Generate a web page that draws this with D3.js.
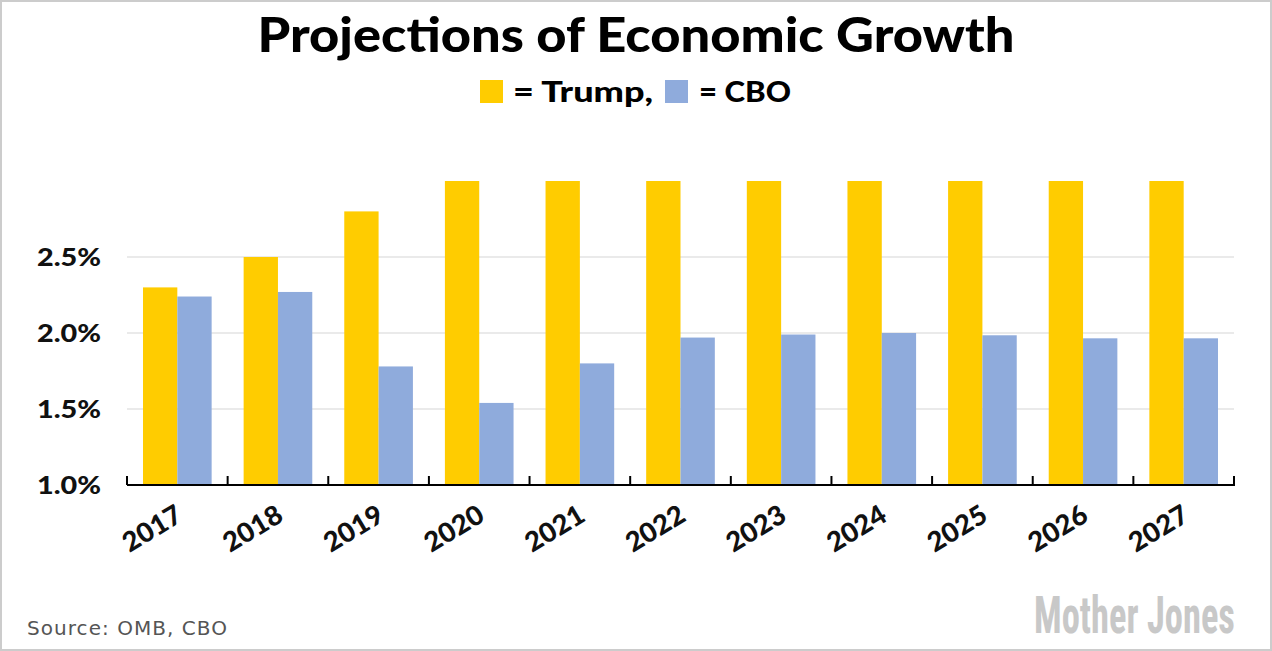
<!DOCTYPE html>
<html>
<head>
<meta charset="utf-8">
<script src="https://cdn.jsdelivr.net/npm/d3@7"></script>
<style>
  html, body { margin: 0; padding: 0; background: #fff; }
  svg { display: block; }
</style>
</head>
<body>
<svg id="chart" width="1272" height="651"></svg>
<script>
const years = ["2017","2018","2019","2020","2021","2022","2023","2024","2025","2026","2027"];
const trump = [2.3, 2.5, 2.8, 3.0, 3.0, 3.0, 3.0, 3.0, 3.0, 3.0, 3.0];
const cbo   = [2.24, 2.27, 1.78, 1.54, 1.80, 1.97, 1.99, 2.00, 1.985, 1.965, 1.965];
const series = ["Trump", "CBO"];
const colors = ["#ffcc00", "#8fabdc"];
const yTicks = [1.0, 1.5, 2.0, 2.5];

const svg = d3.select("#chart");
const W = 1272, H = 651;
const boldFont = "Lato, 'Open Sans', sans-serif";

// border
svg.append("rect").attr("x", 1).attr("y", 1).attr("width", W - 2).attr("height", H - 2)
  .attr("fill", "#fff").attr("stroke", "#cccccc").attr("stroke-width", 2);

const plotLeft = 127, plotRight = 1234, plotBottom = 485, plotTop = 181;

const x0 = d3.scaleBand().domain(years).range([plotLeft, plotRight]).padding(0);
const x1 = d3.scaleBand().domain(series).range([0, x0.bandwidth()]).paddingInner(0).paddingOuter(0.466);
const y = d3.scaleLinear().domain([1.0, 3.0]).range([plotBottom, plotTop]);
const color = d3.scaleOrdinal().domain(series).range(colors);

// gridlines
svg.append("g").selectAll("line").data(yTicks.slice(1)).join("line")
  .attr("x1", plotLeft).attr("x2", plotRight)
  .attr("y1", d => y(d)).attr("y2", d => y(d))
  .attr("stroke", "#e3e3e3").attr("stroke-width", 1.5);

// y labels
svg.append("g").selectAll("text").data(yTicks).join("text")
  .attr("x", 101).attr("y", d => y(d))
  .attr("dy", "0.36em")
  .attr("text-anchor", "end")
  .attr("font-family", boldFont)
  .attr("font-weight", 900)
  .attr("font-size", 24)
  .attr("textLength", 64).attr("lengthAdjust", "spacingAndGlyphs")
  .attr("fill", "#111")
  .text(d => d.toFixed(1) + "%");

// bars
const rows = years.map((yr, i) => ({ year: yr, values: [
  { key: "Trump", value: trump[i] }, { key: "CBO", value: cbo[i] }
]}));
const g = svg.append("g").selectAll("g").data(rows).join("g")
  .attr("transform", d => `translate(${x0(d.year)},0)`);
g.selectAll("rect").data(d => d.values).join("rect")
  .attr("x", d => x1(d.key))
  .attr("width", x1.bandwidth())
  .attr("y", d => y(d.value))
  .attr("height", d => y(1.0) - y(d.value))
  .attr("fill", d => color(d.key));

// baseline and ticks
svg.append("line").attr("x1", plotLeft).attr("x2", plotRight + 1)
  .attr("y1", plotBottom).attr("y2", plotBottom)
  .attr("stroke", "#000").attr("stroke-width", 2);
const tickPos = years.map(yr => x0(yr)).concat([x0(years[years.length - 1]) + x0.bandwidth()]);
svg.append("g").selectAll("line").data(tickPos).join("line")
  .attr("x1", d => d).attr("x2", d => d)
  .attr("y1", plotBottom).attr("y2", plotBottom - 9)
  .attr("stroke", "#000").attr("stroke-width", 2);

// x labels
svg.append("g").selectAll("text").data(years).join("text")
  .attr("transform", d => `translate(${x0(d) + x0.bandwidth() / 2 + 7},520) rotate(-31)`)
  .attr("text-anchor", "end")
  .attr("font-family", boldFont)
  .attr("font-weight", 900)
  .attr("font-size", 27)
  .attr("textLength", 64).attr("lengthAdjust", "spacingAndGlyphs")
  .attr("fill", "#111")
  .text(d => d);

// title
svg.append("text")
  .attr("x", 636).attr("y", 52)
  .attr("text-anchor", "middle")
  .attr("font-family", boldFont)
  .attr("font-weight", 900)
  .attr("font-size", 47)
  .attr("textLength", 757).attr("lengthAdjust", "spacingAndGlyphs")
  .attr("fill", "#000")
  .text("Projections of Economic Growth");

// legend
const leg = svg.append("g");
const legItems = [
  { sx: 480, tx: 513, tw: 140, label: "= Trump," },
  { sx: 665, tx: 699, tw: 92, label: "= CBO" }
];
legItems.forEach((it, i) => {
  leg.append("rect").attr("x", it.sx).attr("y", 80).attr("width", 23).attr("height", 23).attr("fill", colors[i]);
  leg.append("text").attr("x", it.tx).attr("y", 102)
    .attr("font-family", boldFont).attr("font-weight", 900).attr("font-size", 28)
    .attr("textLength", it.tw).attr("lengthAdjust", "spacingAndGlyphs")
    .attr("fill", "#000")
    .text(it.label);
});

// source
svg.append("text").attr("x", 27).attr("y", 635)
  .attr("font-family", "'DejaVu Sans', Verdana, sans-serif")
  .attr("font-size", 20).attr("fill", "#555")
  .attr("textLength", 200).attr("lengthAdjust", "spacing")
  .text("Source: OMB, CBO");

// logo
const logo = svg.append("text").attr("x", 0).attr("y", 0)
  .attr("font-family", "'Liberation Sans Narrow', 'Roboto Condensed', 'Liberation Sans', sans-serif")
  .attr("font-weight", 700).attr("font-size", 38)
  .attr("fill", "#c8c8c8")
  .text("Mother Jones");
const lw = logo.node().getComputedTextLength();
logo.attr("transform", `translate(1034,633) scale(${201 / lw},1.38)`);
</script>
</body>
</html>
